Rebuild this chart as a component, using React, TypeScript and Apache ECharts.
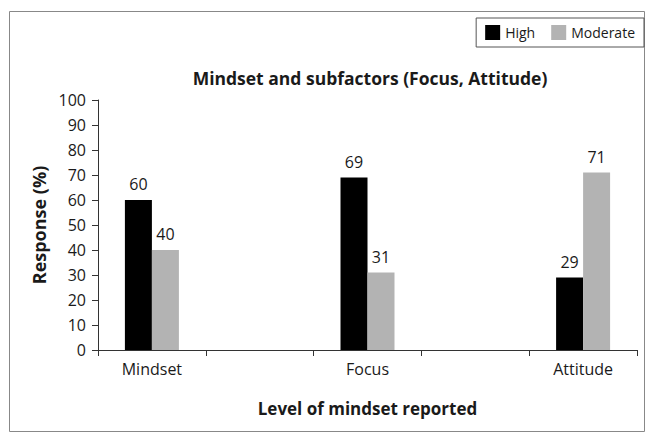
import React, { useEffect, useRef } from "react";
import * as echarts from "echarts";

const categories = ["Mindset", "", "Focus", "", "Attitude"];
const highValues = [60, null, 69, null, 29];
const moderateValues = [40, null, 31, null, 71];
const yTicks = { min: 0, max: 100, interval: 10 };

const FONT = "'Open Sans', 'Noto Sans', sans-serif";
const TXT = "#1a1a1a";

export default function App() {
  const ref = useRef<HTMLDivElement>(null);
  useEffect(() => {
    if (!ref.current) return;
    const chart = echarts.init(ref.current, null, { renderer: "svg" });
    chart.setOption({
      animation: false,
      backgroundColor: "#fff",
      textStyle: { fontFamily: FONT, color: TXT },
      title: {
        text: "Mindset and subfactors (Focus, Attitude)",
        left: 365,
        top: 64,
        textAlign: "center",
        textStyle: { fontFamily: FONT, fontSize: 17.5, fontWeight: "bold", color: TXT },
      },
      legend: {
        right: 5,
        top: 18,
        itemWidth: 15,
        itemHeight: 15,
        itemGap: 16,
        itemStyle: { borderWidth: 0 },
        padding: [7, 9, 7, 9],
        borderColor: "#555",
        borderWidth: 1,
        icon: "rect",
        textStyle: { fontFamily: FONT, fontSize: 14, color: TXT },
        data: ["High", "Moderate"],
      },
      graphic: [
        {
          type: "rect",
          shape: { x: 9.5, y: 11.5, width: 635, height: 420 },
          style: { fill: "none", stroke: "#888", lineWidth: 1 },
          z: -1,
        },
      ],
      grid: { left: 98, right: 12, top: 100, bottom: 85, containLabel: false },
      xAxis: {
        type: "category",
        data: categories,
        name: "Level of mindset reported",
        nameLocation: "middle",
        nameGap: 50,
        nameTextStyle: { fontFamily: FONT, fontSize: 17, fontWeight: "bold", color: TXT },
        axisLine: { lineStyle: { color: "#333", width: 1 } },
        axisTick: { show: true, length: 6, lineStyle: { color: "#333" } },
        axisLabel: { interval: 0, fontFamily: FONT, fontSize: 16, color: TXT, margin: 11 },
      },
      yAxis: {
        type: "value",
        min: yTicks.min,
        max: yTicks.max,
        interval: yTicks.interval,
        name: "Response (%)",
        nameLocation: "middle",
        nameRotate: 90,
        nameGap: 48,
        nameTextStyle: { fontFamily: FONT, fontSize: 18, fontWeight: "bold", color: TXT },
        axisLine: { show: true, lineStyle: { color: "#333", width: 1 } },
        axisTick: { show: true, length: 6, lineStyle: { color: "#333" } },
        splitLine: { show: false },
        axisLabel: { fontFamily: FONT, fontSize: 16, color: TXT, margin: 12 },
      },
      series: [
        {
          name: "High",
          type: "bar",
          data: highValues,
          barWidth: 27,
          barGap: "0%",
          itemStyle: { color: "#000" },
          label: { show: true, position: "top", distance: 8, fontFamily: FONT, fontSize: 16, color: TXT },
        },
        {
          name: "Moderate",
          type: "bar",
          data: moderateValues,
          barWidth: 27,
          barGap: "0%",
          itemStyle: { color: "#b3b3b3" },
          label: { show: true, position: "top", distance: 8, fontFamily: FONT, fontSize: 16, color: TXT },
        },
      ],
    });
    return () => chart.dispose();
  }, []);
  return (
    <div
      ref={ref}
      style={{ position: "absolute", left: 0, top: 0, width: 649, height: 435 }}
    />
  );
}
